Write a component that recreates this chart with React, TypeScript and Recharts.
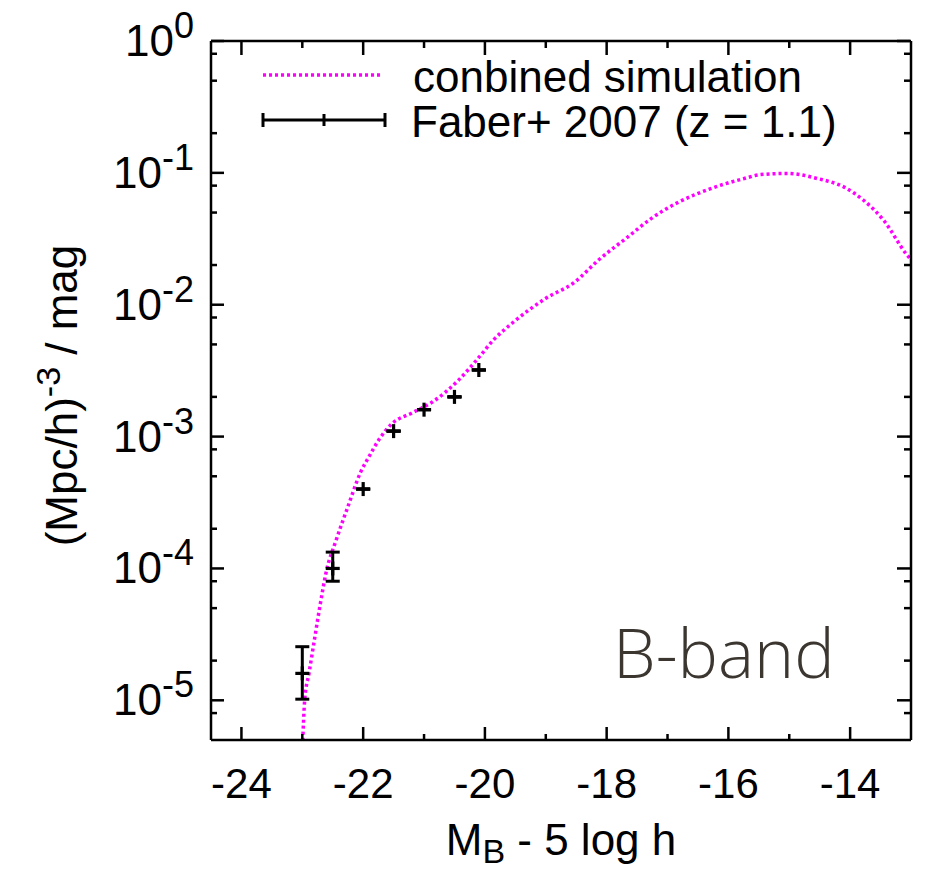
import { ComposedChart, Line, Scatter, ErrorBar, XAxis, YAxis, Legend } from "recharts";

// combined simulation luminosity function (B band)
const simMag = [
	-23.0, -22.96, -22.89, -22.8, -22.71, -22.61, -22.44, -22.25, -22.04, -21.9, -21.74, -21.52, -21.2, -20.87,
	-20.43, -20.1, -19.86, -19.56, -19.01, -18.52, -18.14, -17.65, -17.27, -16.83, -16.29, -15.74, -15.47, -15.03,
	-14.54, -14.1, -13.78, -13.45, -13.07, -13.0,
];
const simDensity = [
	4e-6, 1.02e-5, 1.6e-5, 2.9e-5, 5.2e-5, 9.3e-5, 1.66e-4, 2.95e-4, 5.4e-4, 7.1e-4, 9.5e-4, 1.26e-3, 1.51e-3, 1.82e-3,
	2.69e-3, 3.98e-3, 5.4e-3, 7.2e-3, 1.11e-2, 1.49e-2, 2.17e-2, 3.27e-2, 4.5e-2, 5.96e-2, 7.6e-2, 9.06e-2, 9.7e-2, 9.9e-2,
	9.06e-2, 7.8e-2, 6.2e-2, 4.37e-2, 2.4e-2, 2.2e-2,
];

// Faber+ 2007, z = 1.1
const faberMag = [-23.0, -22.5, -22.0, -21.5, -21.0, -20.5, -20.1];
const faberDensity = [1.6e-5, 1.0e-4, 4.0e-4, 1.1e-3, 1.6e-3, 2.0e-3, 3.2e-3];
const faberErrLow = [0.58e-5, 0.2e-4, 0, 0, 0, 0, 0];
const faberErrHigh = [0.95e-5, 0.33e-4, 0, 0, 0, 0, 0];

const xMajorTicks = [-24, -22, -20, -18, -16, -14];
const xMinorTicks = [-23, -21, -19, -17, -15];
const yMajorTicks = [1e-5, 1e-4, 1e-3, 1e-2, 1e-1, 1];
const yMinorTicks = [8e-6, 2e-5, 5e-5, 8e-5, 2e-4, 5e-4, 8e-4, 2e-3, 5e-3, 8e-3, 2e-2, 5e-2, 8e-2, 0.2, 0.5, 0.8];

const FONT = "'Liberation Sans', Arial, Helvetica, sans-serif";
const MAJOR = 13;
const MINOR = 6;
const LW = 2.5;

const simData = simMag.map((m, i) => ({ x: m, y: simDensity[i] }));
const faberData = faberMag.map((m, i) => ({ x: m, y: faberDensity[i], err: [faberErrLow[i], faberErrHigh[i]] }));

const xTicks = [...xMajorTicks, ...xMinorTicks];
const yTicks = [...yMajorTicks, ...yMinorTicks];

const BottomTick = (p: any) => {
	const { x, y, payload } = p;
	const major = xMajorTicks.includes(payload.value);
	return (
		<g>
			<line x1={x} x2={x} y1={y} y2={y - (major ? MAJOR : MINOR)} stroke="#000" strokeWidth={LW} />
			{major && (
				<text x={x} y={y + 58} textAnchor="middle" fontSize={42} fontFamily={FONT} fill="#000">
					{payload.value}
				</text>
			)}
		</g>
	);
};

// top axis is 1px tall, its ticks start at the frame line
const TopTick = (p: any) => {
	const { x, y, payload } = p;
	const major = xMajorTicks.includes(payload.value);
	return <line x1={x} x2={x} y1={y + 1} y2={y + 1 + (major ? MAJOR : MINOR)} stroke="#000" strokeWidth={LW} />;
};

const LeftTick = (p: any) => {
	const { x, y, payload } = p;
	const major = yMajorTicks.includes(payload.value);
	const exp = Math.round(Math.log10(payload.value));
	return (
		<g>
			<line x1={x} x2={x + (major ? MAJOR : MINOR)} y1={y} y2={y} stroke="#000" strokeWidth={LW} />
			{major && (
				<text x={x - 17} y={y + 15} textAnchor="end" fontSize={44} fontFamily={FONT} fill="#000">
					10
					<tspan dy={-18} fontSize={36}>
						{exp}
					</tspan>
				</text>
			)}
		</g>
	);
};

// right axis is 1px wide, its ticks start at the frame line
const RightTick = (p: any) => {
	const { x, y, payload } = p;
	const major = yMajorTicks.includes(payload.value);
	return <line x1={x - 1} x2={x - 1 - (major ? MAJOR : MINOR)} y1={y} y2={y} stroke="#000" strokeWidth={LW} />;
};

const PlusShape = (p: any) => {
	const { cx, cy } = p;
	return (
		<g stroke="#000" strokeWidth={3.2}>
			<line x1={cx - 7} x2={cx + 7} y1={cy} y2={cy} />
			<line x1={cx} x2={cx} y1={cy - 7} y2={cy + 7} />
		</g>
	);
};

const YTitle = (p: any) => {
	const vb = p.viewBox;
	const cy = vb.y + vb.height / 2 + 5;
	return (
		<text transform={`translate(77,${cy}) rotate(-90)`} textAnchor="middle" fontSize={44} fontFamily={FONT} fill="#000">
			(Mpc/h)
			<tspan dy={-17} fontSize={34}>
				-3
			</tspan>
			<tspan dy={17}> / mag</tspan>
		</text>
	);
};

const XTitle = (p: any) => {
	const vb = p.viewBox;
	const cx = vb.x + vb.width / 2;
	return (
		<text x={cx} y={855} textAnchor="middle" fontSize={44} fontFamily={FONT} fill="#000">
			M
			<tspan dy={8} fontSize={34}>
				B
			</tspan>
			<tspan dy={-8}> - 5 log h</tspan>
		</text>
	);
};

const LegendBox = () => (
	<svg width={640} height={120} style={{ display: "block" }}>
		<line x1={23} x2={143} y1={35} y2={35} stroke="#ff00ff" strokeWidth={3.5} strokeDasharray="3 3" />
		<text x={173} y={51.5} fontSize={44} fontFamily={FONT} fill="#000">
			conbined simulation
		</text>
		<g stroke="#000" strokeWidth={3}>
			<line x1={23} x2={145} y1={80} y2={80} />
			<line x1={23} x2={23} y1={73} y2={87} />
			<line x1={145} x2={145} y1={73} y2={87} />
			<line x1={84} x2={84} y1={74} y2={86} />
		</g>
		<text x={171} y={96.5} fontSize={44} fontFamily={FONT} fill="#000">
			Faber+ 2007 (z = 1.1)
		</text>
	</svg>
);

export default function App() {
	return (
		<div style={{ position: "absolute", left: 0, top: 0, width: 925, height: 870, background: "#fff" }}>
			<ComposedChart width={925} height={870} margin={{ top: 40, right: 13, bottom: 0, left: 0 }}>
				<XAxis
					xAxisId="b"
					dataKey="x"
					type="number"
					domain={[-24.5, -13]}
					allowDataOverflow
					ticks={xTicks}
					interval={0}
					tickLine={false}
					tickSize={0}
					tickMargin={0}
					tick={(p: any) => <BottomTick {...p} />}
					axisLine={{ stroke: "#000", strokeWidth: LW }}
					height={130}
					label={(p: any) => <XTitle {...p} />}
				/>
				<XAxis
					xAxisId="t"
					dataKey="x"
					orientation="top"
					type="number"
					domain={[-24.5, -13]}
					allowDataOverflow
					ticks={xTicks}
					interval={0}
					tickLine={false}
					tickSize={0}
					tickMargin={0}
					tick={(p: any) => <TopTick {...p} />}
					axisLine={{ stroke: "#000", strokeWidth: LW }}
					height={1}
				/>
				<YAxis
					yAxisId="l"
					type="number"
					scale="log"
					domain={[5e-6, 1]}
					allowDataOverflow
					ticks={yTicks}
					interval={0}
					tickLine={false}
					tickSize={0}
					tickMargin={0}
					tick={(p: any) => <LeftTick {...p} />}
					axisLine={{ stroke: "#000", strokeWidth: LW }}
					width={211}
					label={(p: any) => <YTitle {...p} />}
				/>
				<YAxis
					yAxisId="r"
					orientation="right"
					type="number"
					scale="log"
					domain={[5e-6, 1]}
					allowDataOverflow
					ticks={yTicks}
					interval={0}
					tickLine={false}
					tickSize={0}
					tickMargin={0}
					tick={(p: any) => <RightTick {...p} />}
					axisLine={{ stroke: "#000", strokeWidth: LW }}
					width={1}
				/>
				<Legend
					layout="vertical"
					align="center"
					verticalAlign="middle"
					content={() => <LegendBox />}
					wrapperStyle={{ left: 240, top: 40, width: 640, height: 120 }}
				/>
				{/* invisible copy that ties the mirrored top/right axes to the same scales */}
				<Line
					xAxisId="t"
					yAxisId="r"
					data={simData}
					dataKey="y"
					stroke="none"
					dot={false}
					activeDot={false}
					legendType="none"
					isAnimationActive={false}
				/>
				<Line
					xAxisId="b"
					yAxisId="l"
					data={simData}
					dataKey="y"
					type="monotone"
					stroke="#ff00ff"
					strokeWidth={3.5}
					strokeDasharray="3 3"
					dot={false}
					activeDot={false}
					isAnimationActive={false}
				/>
				<Scatter
					xAxisId="b"
					yAxisId="l"
					data={faberData}
					dataKey="y"
					shape={(p: any) => <PlusShape {...p} />}
					isAnimationActive={false}
				>
					<ErrorBar dataKey="err" direction="y" width={7} stroke="#000" strokeWidth={3} isAnimationActive={false} />
				</Scatter>
			</ComposedChart>
			<svg width={925} height={870} style={{ position: "absolute", left: 0, top: 0, pointerEvents: "none" }}>
				<text x={613} y={678} fontSize={68} fontWeight={300} fontFamily="'Open Sans', 'Noto Sans', sans-serif" fill="#3b3630">
					B-band
				</text>
			</svg>
		</div>
	);
}
